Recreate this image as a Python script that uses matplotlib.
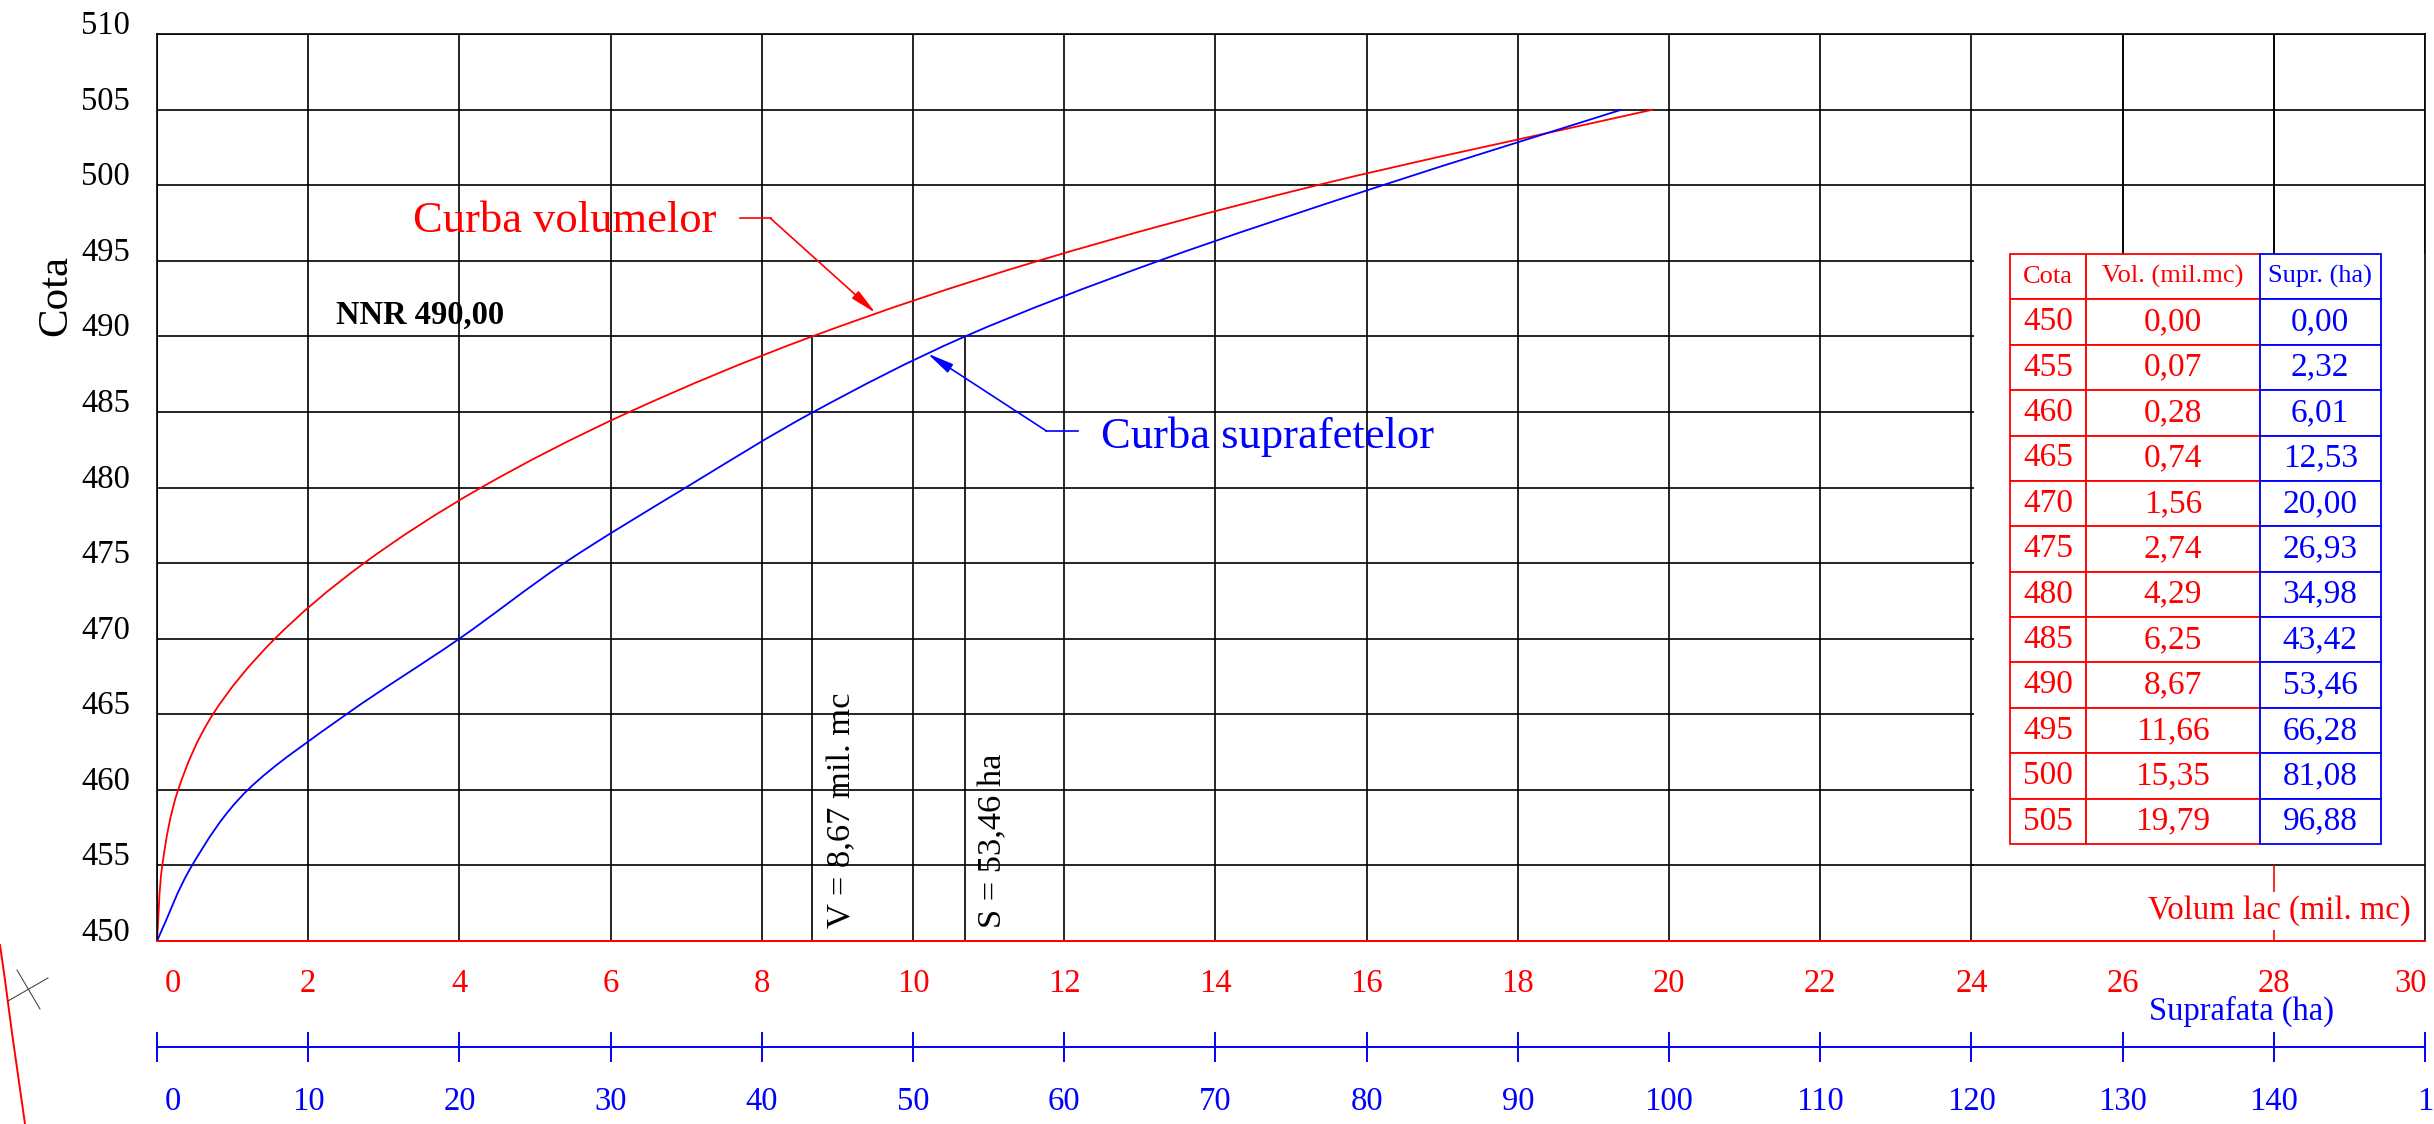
import numpy as np
import matplotlib
matplotlib.use("Agg")
import matplotlib.pyplot as plt
from matplotlib.patches import Rectangle, PathPatch
from matplotlib.path import Path
from matplotlib.lines import Line2D
from matplotlib.transforms import ScaledTranslation, blended_transform_factory

plt.rcParams['font.family'] = ['Liberation Serif', 'DejaVu Serif']

# ---------------- data ----------------
cota = [450, 455, 460, 465, 470, 475, 480, 485, 490, 495, 500, 505]
volum = [0.00, 0.07, 0.28, 0.74, 1.56, 2.74, 4.29, 6.25, 8.67, 11.66, 15.35, 19.79]
suprafata = [0.00, 2.32, 6.01, 12.53, 20.00, 26.93, 34.98, 43.42, 53.46, 66.28, 81.08, 96.88]
vol_ticks = list(range(0, 31, 2))
supr_ticks = list(range(0, 151, 10))
cota_ticks = list(range(450, 511, 5))
table_header = ['Cota', 'Vol. (mil.mc)', 'Supr. (ha)']
nnr = 490
HA_PER_UNIT = 5.0   # 150 ha spread over the 0..30 volume scale


def fmt(v):
    return f"{v:.2f}".replace('.', ',')


def smooth_path(xs, ys):
    """Smooth (cubic Bezier) path passing through every data point."""
    xs = np.asarray(xs, float)
    ys = np.asarray(ys, float)
    n = len(xs)
    d = np.diff(xs) / np.diff(ys)
    m = np.empty(n)
    m[0], m[-1] = d[0], d[-1]
    m[1:-1] = (d[:-1] + d[1:]) / 2
    verts = [(xs[0], ys[0])]
    codes = [Path.MOVETO]
    for i in range(n - 1):
        h = ys[i + 1] - ys[i]
        verts += [(xs[i] + m[i] * h / 3, ys[i] + h / 3),
                  (xs[i + 1] - m[i + 1] * h / 3, ys[i + 1] - h / 3),
                  (xs[i + 1], ys[i + 1])]
        codes += [Path.CURVE4] * 3
    return Path(verts, codes)


i_nnr = cota.index(nnr)
v_nnr = volum[i_nnr]
s_nnr = suprafata[i_nnr]

W, H, DPI = 2434, 1124, 100
L, R, T, B = 157, 2425, 34, 941

fig = plt.figure(figsize=(W / DPI, H / DPI), dpi=DPI)
ax = fig.add_axes([L / W, 1 - B / H, (R - L) / W, (B - T) / H])
ax.set_xlim(0, 30)
ax.set_ylim(450, 510)

GLW = 1.2
ax.set_xticks(vol_ticks, labels=[str(v) for v in vol_ticks])
ax.set_yticks(cota_ticks, labels=[str(c) for c in cota_ticks])
ax.grid(True, color='black', lw=GLW)
ax.set_axisbelow(True)

# blank area around the table (grid interrupted there)
ax.add_patch(Rectangle((24.03, 450), 30 - 24.03, 495.45 - 450,
                       facecolor='white', edgecolor='none', zorder=0.8))
ax.hlines(455, 24, 30, color='black', lw=GLW, zorder=0.9)
ax.vlines([26, 28], 495.45, 510, color='black', lw=GLW, zorder=0.9)
ax.vlines(28, 450, 455, color='red', lw=GLW, zorder=0.9)

for s in ['left', 'top', 'right']:
    ax.spines[s].set_color('black')
    ax.spines[s].set_linewidth(GLW)
ax.spines['bottom'].set_color('red')
ax.spines['bottom'].set_linewidth(1.4)

FS = 23.5
ax.tick_params(axis='x', length=0, pad=19.7, labelsize=FS, labelcolor='red')
ax.tick_params(axis='y', length=0, pad=19.4, labelsize=FS, labelcolor='black')
for lbl in ax.get_yticklabels():
    lbl.set_verticalalignment('baseline')

# curves
ax.add_patch(PathPatch(smooth_path(volum, cota), facecolor='none',
                       edgecolor='red', lw=1.3, zorder=2))
ax.add_patch(PathPatch(smooth_path(np.array(suprafata) / HA_PER_UNIT, cota),
                       facecolor='none', edgecolor='blue', lw=1.3, zorder=2))

# NNR guides
ax.vlines(v_nnr, 450, nnr, color='black', lw=GLW, zorder=1)
ax.vlines(s_nnr / HA_PER_UNIT, 450, nnr, color='black', lw=GLW, zorder=1)
ax.text(9.167, 450.87, f"V = {fmt(v_nnr)} mil. mc", rotation=90, rotation_mode='anchor',
        ha='left', va='baseline', fontsize=24.8, color='black')
ax.text(11.173, 450.87, f"S = {fmt(s_nnr)} ha", rotation=90, rotation_mode='anchor',
        ha='left', va='baseline', fontsize=24.8, color='black')

ax.text(2.368, 490.82, f"NNR {nnr},00", fontweight='bold', fontsize=23.5,
        ha='left', va='baseline', color='black')

# curve labels with leaders
ax.text(3.386, 496.9, 'Curba volumelor', fontsize=32, color='red', ha='left', va='baseline')
ax.plot([7.712, 8.116], [497.80, 497.80], color='red', lw=1.2)
ax.annotate('', xy=(9.505, 491.55), xytext=(8.116, 497.80),
            arrowprops=dict(arrowstyle='-|>,head_length=0.8,head_width=0.15', color='red',
                            lw=1.2, shrinkA=0, shrinkB=0, mutation_scale=20))

ax.text(12.487, 482.58, 'Curba suprafetelor', fontsize=32, color='blue', ha='left', va='baseline')
ax.plot([12.183, 11.765], [483.74, 483.74], color='blue', lw=1.2)
ax.annotate('', xy=(10.192, 488.86), xytext=(11.765, 483.74),
            arrowprops=dict(arrowstyle='-|>,head_length=0.8,head_width=0.15', color='blue',
                            lw=1.2, shrinkA=0, shrinkB=0, mutation_scale=20))

# axis titles
ax.text(29.815, 451.45, 'Volum lac (mil. mc)', color='red', fontsize=FS, ha='right',
        va='baseline', zorder=3,
        bbox=dict(boxstyle='square,pad=0.1', fc='white', ec='none'))
btr = blended_transform_factory(ax.transData, ax.transAxes)
ax.text(27.57, (B - 1020) / (B - T), 'Suprafata (ha)', color='blue', fontsize=FS,
        ha='center', va='baseline', transform=btr, clip_on=False)

fig.text(56 / W, 1 - 295 / H, 'Cota', rotation=90, ha='center', va='center', fontsize=31)

# table
rows = [[str(c), fmt(v), fmt(s)] for c, v, s in zip(cota, volum, suprafata)]
x0 = (2010 - L) / (R - L)
x1 = (2380.7 - L) / (R - L)
y0 = (B - 844) / (B - T)
y1 = (B - 254) / (B - T)
tbl = ax.table(cellText=rows, colLabels=table_header, cellLoc='center',
               colWidths=[76, 173.7, 121], bbox=[x0, y0, x1 - x0, y1 - y0])
tbl.auto_set_font_size(False)
tbl.set_zorder(3)
for (r, c), cell in tbl.get_celld().items():
    col = 'blue' if c == 2 else 'red'
    cell.set_edgecolor(col)
    cell.set_linewidth(1.3)
    cell.set_facecolor('white')
    cell.get_text().set_color(col)
    cell.get_text().set_fontsize(19 if r == 0 else 24)
    cell.PAD = 0.02

# surface scale
sec = ax.secondary_xaxis((B - 1047.3) / (B - T),
                         functions=(lambda v: v * HA_PER_UNIT, lambda s: s / HA_PER_UNIT))
sec.set_xticks(supr_ticks, labels=[str(s) for s in supr_ticks])
sec.tick_params(direction='inout', length=22.3, width=1.4, color='blue',
                labelcolor='blue', labelsize=FS, pad=17.2)
sec.spines['bottom'].set_color('blue')
sec.spines['bottom'].set_linewidth(1.4)


def shift(label, dx_px):
    label.set_transform(label.get_transform() +
                        ScaledTranslation(dx_px / DPI, 0, fig.dpi_scale_trans))


xt = ax.xaxis.get_major_ticks()
shift(xt[0].label1, 16)
shift(xt[-1].label1, -14)
st = sec.xaxis.get_major_ticks()
shift(st[0].label1, 16)
shift(st[-1].label1, 17)


# stray drawing marks at the far left
def fl(xs, ys):
    return [x / W for x in xs], [1 - y / H for y in ys]


xs, ys = fl([0, 5, 12, 25], [945, 980, 1033, 1124])
fig.add_artist(Line2D(xs, ys, color='red', lw=1.4, transform=fig.transFigure))
xs, ys = fl([17, 40], [970, 1009])
fig.add_artist(Line2D(xs, ys, color='#333333', lw=0.7, transform=fig.transFigure))
xs, ys = fl([8, 48], [1001, 978])
fig.add_artist(Line2D(xs, ys, color='#333333', lw=0.7, transform=fig.transFigure))

fig.savefig('out.png', dpi=DPI, facecolor='white')
